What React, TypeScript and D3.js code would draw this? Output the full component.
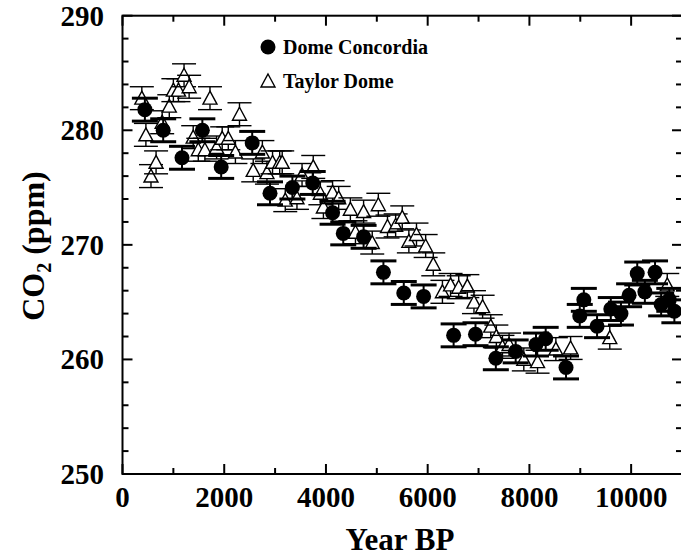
import * as d3 from "d3";

// Dome Concordia (filled circles)
const dcYear = [440, 800, 1170, 1570, 1940, 2550, 2900, 3340, 3740, 4130, 4340, 4740, 5130, 5530, 5920, 6510, 6940, 7340, 7730, 8130, 8320, 8720, 8990, 9070, 9330, 9600, 9800, 9960, 10120, 10270, 10470, 10590, 10750, 10850];
const dcCO2 = [281.8, 280.0, 277.6, 280.0, 276.8, 278.9, 274.5, 275.0, 275.4, 272.8, 271.0, 270.7, 267.6, 265.8, 265.5, 262.1, 262.2, 260.1, 260.7, 261.3, 261.8, 259.3, 263.8, 265.2, 262.9, 264.4, 264.0, 265.6, 267.5, 265.9, 267.6, 264.8, 265.2, 264.2];
const dcErr = 1.0;

// Taylor Dome (open triangles)
const tdYear = [380, 460, 560, 660, 780, 920, 1000, 1100, 1210, 1310, 1390, 1490, 1620, 1720, 1850, 1960, 2080, 2220, 2300, 2570, 2750, 2840, 2950, 3090, 3140, 3200, 3430, 3530, 3750, 3890, 3950, 4130, 4250, 4480, 4580, 4740, 4910, 5030, 5210, 5370, 5500, 5630, 5780, 5960, 6110, 6290, 6450, 6610, 6780, 6910, 7080, 7240, 7350, 7470, 7600, 7890, 8160, 8520, 8810, 9580, 10710];
const tdCO2 = [282.8, 279.6, 276.0, 277.2, 280.7, 282.1, 283.5, 283.5, 284.8, 283.8, 279.4, 278.3, 278.3, 282.8, 278.5, 279.3, 279.3, 278.1, 281.4, 276.5, 278.1, 276.3, 277.2, 277.2, 277.2, 273.9, 274.1, 276.1, 276.8, 274.5, 273.3, 274.6, 274.1, 273.1, 271.1, 272.9, 270.2, 273.5, 271.6, 271.7, 272.4, 270.3, 270.9, 269.9, 268.3, 265.9, 266.5, 266.3, 266.4, 265.0, 264.6, 262.9, 262.0, 261.1, 261.3, 260.0, 259.8, 260.9, 261.0, 261.9, 266.5];
const tdErr = 1.0;

const xMajor = [0, 2000, 4000, 6000, 8000, 10000];
const xMinor = [1000, 3000, 5000, 7000, 9000];
const yMajor = [250, 260, 270, 280, 290];
const yMinor = [252, 254, 256, 258, 262, 264, 266, 268, 272, 274, 276, 278, 282, 284, 286, 288];

const W = 681;
const H = 556;
const font = "'Liberation Serif', 'Times New Roman', serif";

export default function App() {
  const x = d3.scaleLinear().domain([0, 11000]).range([122.5, 682]);
  const y = d3.scaleLinear().domain([250, 290]).range([474, 15.7]);
  const [x0, x1] = x.range();
  const [y0, y1] = y.range();
  const tri = (cx: number, cy: number, s = 7) =>
    `M${cx},${cy - s}L${cx + s},${cy + s * 0.85}L${cx - s},${cy + s * 0.85}Z`;

  return (
    <svg width={W} height={H} style={{ position: "absolute", left: 0, top: 0, background: "#fff" }} fontFamily={font}>
      {/* Taylor Dome */}
      <g>
        {tdYear.map((yr, i) => {
          const cx = x(yr);
          const cy = y(tdCO2[i]);
          const ya = y(tdCO2[i] + tdErr);
          const yb = y(tdCO2[i] - tdErr);
          return (
            <g key={i} stroke="#000" strokeWidth={1.4} fill="none">
              <line x1={cx} x2={cx} y1={ya} y2={yb} />
              <line x1={cx - 12} x2={cx + 12} y1={ya} y2={ya} />
              <line x1={cx - 12} x2={cx + 12} y1={yb} y2={yb} />
              <path d={tri(cx, cy)} fill="#fff" />
            </g>
          );
        })}
      </g>
      {/* Dome Concordia */}
      <g>
        {dcYear.map((yr, i) => {
          const cx = x(yr);
          const cy = y(dcCO2[i]);
          const ya = y(dcCO2[i] + dcErr);
          const yb = y(dcCO2[i] - dcErr);
          return (
            <g key={i} stroke="#000">
              <line x1={cx} x2={cx} y1={ya} y2={yb} strokeWidth={2} />
              <line x1={cx - 13} x2={cx + 13} y1={ya} y2={ya} strokeWidth={3} />
              <line x1={cx - 13} x2={cx + 13} y1={yb} y2={yb} strokeWidth={3} />
              <circle cx={cx} cy={cy} r={7.5} fill="#000" stroke="none" />
            </g>
          );
        })}
      </g>
      {/* frame */}
      <rect x={x0} y={y1} width={x1 - x0} height={y0 - y1} fill="none" stroke="#000" strokeWidth={2} />
      {/* x ticks */}
      {xMajor.map((v) => (
        <g key={"xm" + v} stroke="#000" strokeWidth={2}>
          <line x1={x(v)} x2={x(v)} y1={y0} y2={y0 - 10} />
          <line x1={x(v)} x2={x(v)} y1={y1} y2={y1 + 10} />
        </g>
      ))}
      {xMinor.map((v) => (
        <g key={"xn" + v} stroke="#000" strokeWidth={2}>
          <line x1={x(v)} x2={x(v)} y1={y0} y2={y0 - 6} />
          <line x1={x(v)} x2={x(v)} y1={y1} y2={y1 + 6} />
        </g>
      ))}
      {yMajor.map((v) => (
        <g key={"ym" + v} stroke="#000" strokeWidth={2}>
          <line x1={x0} x2={x0 + 10} y1={y(v)} y2={y(v)} />
          <line x1={x1} x2={x1 - 10} y1={y(v)} y2={y(v)} />
        </g>
      ))}
      {yMinor.map((v) => (
        <g key={"yn" + v} stroke="#000" strokeWidth={2}>
          <line x1={x0} x2={x0 + 6} y1={y(v)} y2={y(v)} />
          <line x1={x1} x2={x1 - 6} y1={y(v)} y2={y(v)} />
        </g>
      ))}
      {/* tick labels */}
      {xMajor.map((v) => (
        <text key={"xl" + v} x={x(v)} y={507} textAnchor="middle" fontSize={29} fontWeight="bold">
          {v}
        </text>
      ))}
      {yMajor.map((v) => (
        <text key={"yl" + v} x={104} y={y(v) + 10} textAnchor="end" fontSize={29} fontWeight="bold">
          {v}
        </text>
      ))}
      {/* axis titles */}
      <text x={400} y={550} textAnchor="middle" fontSize={31} fontWeight="bold">
        Year BP
      </text>
      <text transform="translate(44,246) rotate(-90)" textAnchor="middle" fontSize={32} fontWeight="bold">
        CO<tspan fontSize={20} dy={7}>2</tspan>
        <tspan dy={-7}> (ppm)</tspan>
      </text>
      {/* legend */}
      <circle cx={268} cy={47} r={7.5} fill="#000" />
      <text x={283} y={54} fontSize={20} fontWeight="bold">Dome Concordia</text>
      <path d={tri(268, 81)} fill="#fff" stroke="#000" strokeWidth={1.4} />
      <text x={283} y={88} fontSize={20} fontWeight="bold">Taylor Dome</text>
    </svg>
  );
}
